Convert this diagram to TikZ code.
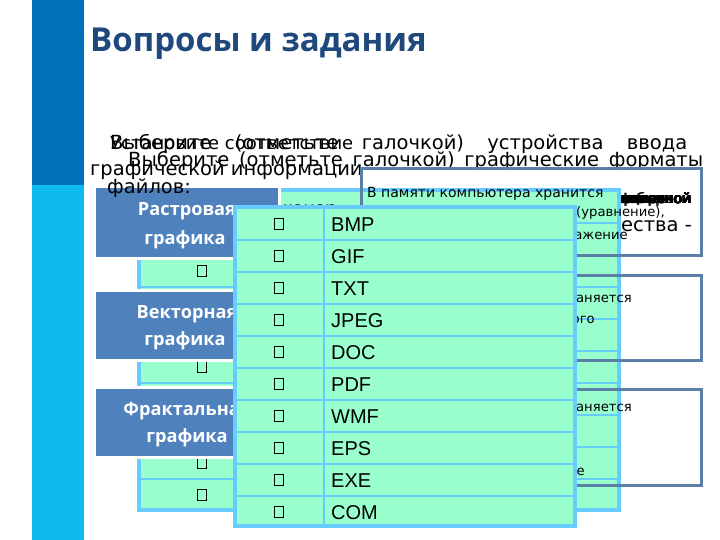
\documentclass[tikz,border=0pt]{standalone}
\usepackage{fontspec}
\setmainfont{DejaVu Sans}
\newfontfamily\arialf{Liberation Sans}
\newfontfamily\headf{Open Sans}
\definecolor{barA}{HTML}{0070BA}
\definecolor{barB}{HTML}{0DBBEE}
\definecolor{titlec}{HTML}{1F497D}
\definecolor{tabfill}{HTML}{99FFCC}
\definecolor{tabline}{HTML}{66CCFF}
\definecolor{boxline}{HTML}{5B7FA8}
\definecolor{catfill}{HTML}{4F81BD}
\tikzset{
  big/.style={anchor=base west,inner sep=0,font=\fontsize{19.5}{20}\selectfont,text=black},
  small/.style={inner sep=0,font=\fontsize{13.2}{14}\selectfont,text=black},
  outlinebox/.style={draw=boxline,line width=3pt},
  tabouter/.style={draw=tabline,fill=tabfill,line width=4pt},
  tabrow/.style={draw=tabline,line width=2pt},
  catbox/.style={fill=catfill,draw=white,line width=3pt},
  catlabel/.style={anchor=base,inner sep=0,text=white,font=\headf\bfseries\fontsize{18.2}{19}\selectfont},
  tick/.style={draw=black,line width=1.1pt,minimum width=9.5pt,minimum height=11.5pt,inner sep=0},
  fmt/.style={anchor=base west,inner sep=0,font=\arialf\fontsize{20}{21}\selectfont,text=black}
}
\begin{document}
\begin{tikzpicture}[x=1pt,y=-1pt]
\useasboundingbox (0,0) rectangle (720,540);
\fill[white] (0,0) rectangle (720,540);
\fill[barA] (32,0) rectangle (84,185);
\fill[barB] (32,185) rectangle (84,540);
\node[anchor=base west,inner sep=0,text=titlec,font=\headf\bfseries\fontsize{33}{34}\selectfont] (title) at (90,52) {Вопросы и задания};
% overprinted question texts
\node[big,font=\fontsize{18}{20}\selectfont] (q1a) at (110,150) {Установите соответствие};
\node[big] (q1b) at (110,150) {\hbox to 577pt{Выберите (отметьте галочкой) устройства ввода}};
\node[big] (q1c) at (90,176) {графической информации};
\node[big] (q2a) at (128,167) {\hbox to 575pt{Выберите (отметьте галочкой) графические форматы}};
\node[big,anchor=base east] (q1d) at (692,232) {количества -};
\foreach \w in {графической,математической,растровой,векторной,фрактальной,цветной,обычной}{
  \node[anchor=base east,inner sep=0,font=\fontsize{14}{15}\selectfont] at (692,204) {\w};
  \node[anchor=base east,inner sep=0,font=\fontsize{14}{15}\selectfont] at (691,204) {\w};
}
% middle table
\draw[tabouter] (139,190) rectangle (619,510);
\foreach \yy in {223,255,287,319,351,383,415,447,479}
  \draw[tabrow] (139,\yy) -- (619,\yy);
\node[fmt] (mid) at (283,215) {канер};
\foreach \yy/\nm in {271/m1,367/m2,463/m3,495/m4}
  \node[tick] (\nm) at (202,\yy) {};
% outlined boxes with statements
\draw[outlinebox] (361,169) rectangle (701,255);
\draw[outlinebox] (361,275) rectangle (701,360);
\draw[outlinebox] (361,389) rectangle (701,485);
\node[small,anchor=base west,font=\fontsize{14}{15}\selectfont] (t1) at (367,197) {В памяти компьютера хранится};
\node[small,anchor=base east] (t2) at (665,217) {(уравнение),};
\node[small,anchor=base east] (t3) at (628,240) {изображение};
\node[small,anchor=base east] (t4) at (632,302) {сохраняется};
\node[small,anchor=base east] (t5) at (595,323) {другого};
\node[small,anchor=base east] (t6) at (632,411) {сохраняется};
\node[small,anchor=base east] (t7) at (585,475) {изображение};
% category boxes
\draw[catbox] (94,187) rectangle (279,258);
\draw[catbox] (94,290) rectangle (279,360);
\draw[catbox] (94,387) rectangle (279,457);
\node[catlabel] (c1) at (187,215) {Растровая};
\node[catlabel] (c1b) at (185,244) {графика};
\node[catlabel] (c2) at (187,318) {Векторная};
\node[catlabel] (c2b) at (185,345) {графика};
\node[catlabel] (c3) at (187,415) {Фрактальная};
\node[catlabel] (c3b) at (187,442) {графика};
\node[big] (q2b) at (107,194) {файлов:};
% front table
\draw[tabouter] (235,207) rectangle (575,526);
\foreach \yy in {240,272,304,336,368,400,432,464,496}
  \draw[tabrow] (235,\yy) -- (575,\yy);
\draw[tabrow] (324,207) -- (324,526);
\foreach \yy/\txt in {224/BMP,256/GIF,288/TXT,320/JPEG,352/DOC,384/PDF,416/WMF,448/EPS,480/EXE,512/COM}{
  \node[tick] (k\txt) at (279,\yy) {};
  \node[fmt] (f\txt) at (331,\yy+7) {\txt};
}
\end{tikzpicture}
\end{document}
